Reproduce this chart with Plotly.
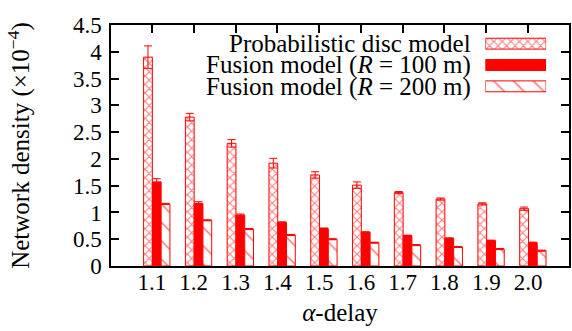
import plotly.graph_objects as go

categories = ["1.1", "1.2", "1.3", "1.4", "1.5", "1.6", "1.7", "1.8", "1.9", "2.0"]
prob_disc = [3.90, 2.78, 2.29, 1.92, 1.70, 1.51, 1.37, 1.25, 1.16, 1.07]
prob_disc_err = [0.21, 0.07, 0.07, 0.09, 0.06, 0.06, 0.02, 0.02, 0.02, 0.03]
fusion_100 = [1.57, 1.17, 0.95, 0.815, 0.70, 0.63, 0.566, 0.516, 0.473, 0.435]
fusion_100_err = [0.06, 0.03, 0.02, 0.01, 0.01, 0.01, 0.01, 0.01, 0.01, 0.01]
fusion_200 = [1.16, 0.853, 0.69, 0.58, 0.50, 0.435, 0.39, 0.355, 0.317, 0.286]
fusion_200_err = [0.01, 0.01, 0.01, 0.01, 0.01, 0.01, 0.01, 0.01, 0.01, 0.01]
legend_names = ["Probabilistic disc model",
                "Fusion model (<i>R</i> = 100 m)",
                "Fusion model (<i>R</i> = 200 m)"]
y_ticks = [0, 0.5, 1, 1.5, 2, 2.5, 3, 3.5, 4, 4.5]

RED = "#ff0000"
FONT = "Liberation Serif"
FS = 25
TFS = 23

pat_prob = dict(shape="x", fgcolor=RED, bgcolor="white", size=6, solidity=0.35)
pat_200 = dict(shape="\\", fgcolor=RED, bgcolor="white", size=13, solidity=0.12)

def err(a):
    return dict(type="data", array=a, visible=True, color=RED, thickness=1, width=4)

xpos = list(range(len(categories)))

fig = go.Figure()
W = 0.21
fig.add_trace(go.Bar(x=xpos, y=prob_disc, error_y=err(prob_disc_err),
                     width=W, offset=-0.20,
                     marker=dict(color="white", line=dict(color=RED, width=1), pattern=pat_prob),
                     showlegend=False))
fig.add_trace(go.Bar(x=xpos, y=fusion_100, error_y=err(fusion_100_err),
                     width=W, offset=0.01,
                     marker=dict(color=RED, line=dict(color=RED, width=1)),
                     showlegend=False))
fig.add_trace(go.Bar(x=xpos, y=fusion_200, error_y=err(fusion_200_err),
                     width=W, offset=0.22,
                     marker=dict(color="white", line=dict(color=RED, width=1), pattern=pat_200),
                     showlegend=False))

# manual legend samples (horizontal bars on a hidden small axis)
leg_rows = [0, 1, 2]
leg_vals = [1, 1, 1]
styles = [
    dict(color="white", line=dict(color=RED, width=1), pattern=pat_prob),
    dict(color=RED, line=dict(color=RED, width=1)),
    dict(color="white", line=dict(color=RED, width=1),
         pattern=dict(shape="\\", fgcolor=RED, bgcolor="white", size=14, solidity=0.12)),
]
for r, st in zip(leg_rows, styles):
    fig.add_trace(go.Bar(x=[leg_vals[r]], y=[r], orientation="h", width=0.51,
                         marker=st, xaxis="x2", yaxis="y2", showlegend=False,
                         hoverinfo="skip"))

L, R, T, B = 111, 1, 25, 65
PW = 572 - L - R
PH = 331 - T - B

def px_x(p):
    return (p - L) / PW

def px_y(p):
    return (331 - B - p) / PH

row_y = [43.5, 65.0, 86.5]
for name, yy in zip(legend_names, row_y):
    fig.add_annotation(text=name, x=px_x(475), y=px_y(yy), xref="paper", yref="paper",
                       xanchor="right", yanchor="middle", showarrow=False,
                       font=dict(family=FONT, size=FS, color="black"))

fig.update_layout(
    width=572, height=331,
    margin=dict(l=L, r=R, t=T, b=B),
    paper_bgcolor="white", plot_bgcolor="rgba(0,0,0,0)",
    font=dict(family=FONT, size=TFS, color="black"),
    xaxis=dict(type="linear", tickmode="array", tickvals=xpos, ticktext=categories,
               range=[-0.98, 9.98], showline=True, mirror="ticks", linecolor="black",
               linewidth=1.5, ticks="inside", ticklen=8, tickwidth=1.5, tickcolor="black",
               layer="below traces", showgrid=False, zeroline=False, ticklabelstandoff=-5,
               tickfont=dict(family=FONT, size=TFS),
               title=dict(text="<i>α</i>-delay", standoff=9,
                          font=dict(family=FONT, size=FS))),
    yaxis=dict(range=[0, 4.5], tickvals=y_ticks, showline=True, mirror="ticks",
               linecolor="black", linewidth=1.5, ticks="inside", ticklen=8,
               tickwidth=1.5, tickcolor="black", showgrid=False, zeroline=False,
               ticklabelstandoff=3, tickfont=dict(family=FONT, size=TFS),
               title=dict(text="Network density (×10<sup>−4</sup>)", standoff=36,
                          font=dict(family=FONT, size=FS))),
    xaxis2=dict(domain=[px_x(487), px_x(548)], range=[0, 1], anchor="y2",
                visible=False, fixedrange=True),
    yaxis2=dict(domain=[px_y(97), px_y(33)], range=[2.5, -0.5], anchor="x2",
                visible=False, fixedrange=True),
)

fig.write_html("out.html")
